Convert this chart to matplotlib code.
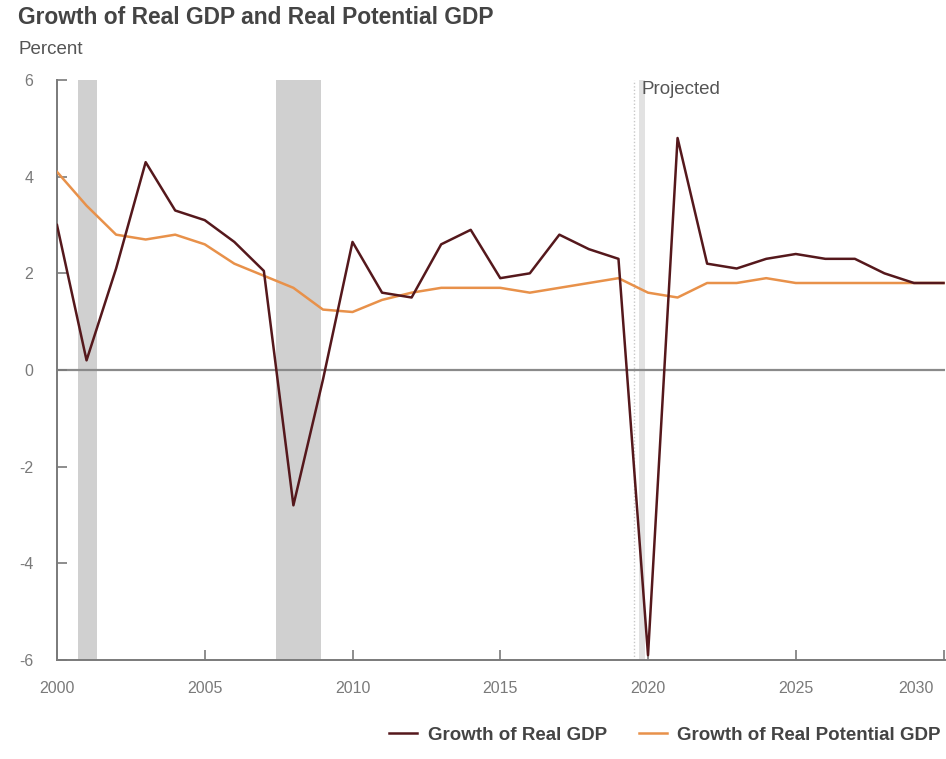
import matplotlib
matplotlib.use("Agg")
import matplotlib.pyplot as plt
import matplotlib.transforms as mtransforms
import numpy as np

years = list(range(2000, 2031))
real_gdp = [3.0, 0.2, 2.1, 4.3, 3.3, 3.1, 2.65, 2.05, -2.8, -0.2,
            2.65, 1.6, 1.5, 2.6, 2.9, 1.9, 2.0, 2.8, 2.5, 2.3,
            -5.9, 4.8, 2.2, 2.1, 2.3, 2.4, 2.3, 2.3, 2.0, 1.8, 1.8]
potential_gdp = [4.1, 3.4, 2.8, 2.7, 2.8, 2.6, 2.2, 1.95, 1.7, 1.25,
                 1.2, 1.45, 1.6, 1.7, 1.7, 1.7, 1.6, 1.7, 1.8, 1.9,
                 1.6, 1.5, 1.8, 1.8, 1.9, 1.8, 1.8, 1.8, 1.8, 1.8, 1.8]
recessions = [(2000.72, 2001.35), (2007.4, 2008.92)]
x_ticks = [2000, 2005, 2010, 2015, 2020, 2025, 2030]
y_ticks = [-6, -4, -2, 0, 2, 4, 6]

plt.rcParams['font.family'] = ['Liberation Sans', 'DejaVu Sans']

fig = plt.figure(figsize=(9.46, 7.59), dpi=100)
ax = fig.add_axes([57/946, 1-660/759, (945-57)/946, (660-80)/759])

for a, b in recessions:
    ax.axvspan(a, b, color='#d0d0d0', lw=0, zorder=0)
# projection marker
ax.axvspan(2019.68, 2019.9, color='#e2e2e2', lw=0, zorder=0)
ax.axvline(2019.53, color='#c8c8c8', lw=1.0, ls=(0, (1, 1.5)), zorder=0)
ax.text(2019.78, 5.8, 'Projected', color='#555555', fontsize=13.5,
        ha='left', va='center')

ax.axhline(0, color='#8a8a8a', lw=1.6, zorder=1)

ax.plot(years, potential_gdp, color='#e8914a', lw=1.8, zorder=3,
        label='Growth of Real Potential GDP')
ax.plot(years, real_gdp, color='#55181c', lw=1.8, zorder=4,
        label='Growth of Real GDP')

ax.set_xlim(2000, 2030.05)
ax.set_ylim(-6, 6)
ax.set_xticks(x_ticks)
ax.set_yticks(y_ticks)
ax.set_xticklabels([str(v) for v in x_ticks])
ax.set_yticklabels([str(v) for v in y_ticks])
ax.tick_params(axis='both', direction='in', length=7, width=1.2,
               color='#7a7a7a', labelcolor='#7a7a7a', labelsize=11.5)
ax.tick_params(axis='y', pad=17)
ax.tick_params(axis='x', pad=15)
for s in ['top', 'right']:
    ax.spines[s].set_visible(False)
for s in ['left', 'bottom']:
    ax.spines[s].set_color('#7a7a7a')
    ax.spines[s].set_linewidth(1.4)

# shift last x tick label left so it stays within the figure
last = ax.get_xticklabels()[-1]
last.set_transform(last.get_transform() +
                   mtransforms.ScaledTranslation(-28/100, 0, fig.dpi_scale_trans))

fig.text(18/946, 1-18/759, 'Growth of Real GDP and Real Potential GDP',
         fontsize=16.4, fontweight='bold', color='#444444', ha='left', va='center')
fig.text(18/946, 1-50/759, 'Percent', fontsize=13.5, color='#555555',
         ha='left', va='center')

handles, labels = ax.get_legend_handles_labels()
leg = fig.legend(handles[::-1], labels[::-1], loc='center right',
                 bbox_to_anchor=(1.012, 1-735/759), ncol=2, frameon=False,
                 prop={'weight': 'bold', 'size': 13.5}, handlelength=1.5,
                 columnspacing=1.7, handletextpad=0.55)
for t in leg.get_texts():
    t.set_color('#444444')

fig.savefig('out.png', dpi=100, facecolor='white')
